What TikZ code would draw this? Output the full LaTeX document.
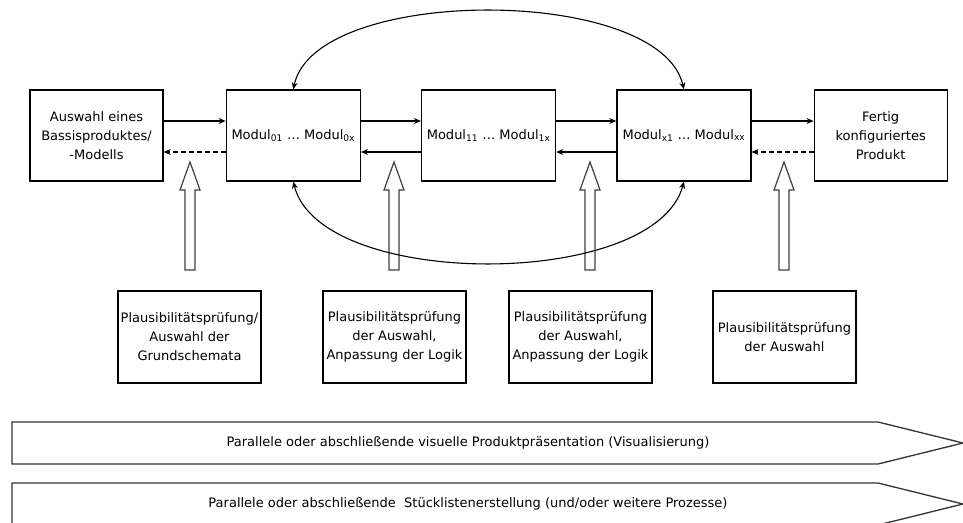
\documentclass[tikz,border=0pt]{standalone}
\usepackage{fontspec}
\setmainfont{DejaVu Sans}
\usetikzlibrary{arrows.meta,positioning}
\tikzset{
	box/.style={draw, line width=1.3pt, minimum width=134pt, minimum height=91pt, align=center, inner sep=1pt},
	checkbox/.style={draw, line width=1.3pt, minimum width=143pt, minimum height=92pt, align=center, inner sep=1pt},
	link/.style={line width=1.1pt, -{Stealth[length=7pt,width=6pt]}},
	backlink/.style={link, dash pattern=on 5pt off 3pt},
	loop/.style={line width=1.1pt, {Stealth[length=7pt,width=6pt]}-{Stealth[length=7pt,width=6pt]}},
	hollow/.style={line width=1.2pt, draw=black!75, fill=white},
	band/.style={line width=1.3pt, draw=black!80, fill=white}
}
\newcommand{\txt}{\fontsize{13}{19}\selectfont}
\begin{document}
\begin{tikzpicture}[x=1pt, y=-1pt, font=\txt]
	\useasboundingbox (0,0) rectangle (963,522);
	\node[box, minimum width=133pt] (basis) at (96.5,135.5) {Auswahl eines\\Bassisproduktes/\\-Modells};
	\node[box, right=62pt of basis] (mod0) {Modul\textsubscript{01} \dots\ Modul\textsubscript{0x}};
	\node[box, right=60pt of mod0] (mod1) {Modul\textsubscript{11} \dots\ Modul\textsubscript{1x}};
	\node[box, right=60pt of mod1] (mod2) {Modul\textsubscript{x1} \dots\ Modul\textsubscript{xx}};
	\node[box, minimum width=133pt, right=62pt of mod2] (fertig) {Fertig\\konfiguriertes\\Produkt};
	\draw[link] ([yshift=14.5pt]basis.east) -- ([yshift=14.5pt]mod0.west);
	\draw[link] ([yshift=14.5pt]mod0.east) -- ([yshift=14.5pt]mod1.west);
	\draw[link] ([yshift=14.5pt]mod1.east) -- ([yshift=14.5pt]mod2.west);
	\draw[link] ([yshift=14.5pt]mod2.east) -- ([yshift=14.5pt]fertig.west);
	\draw[backlink] ([yshift=-16.5pt]mod0.west) -- ([yshift=-16.5pt]basis.east);
	\draw[link] ([yshift=-16.5pt]mod1.west) -- ([yshift=-16.5pt]mod0.east);
	\draw[link] ([yshift=-16.5pt]mod2.west) -- ([yshift=-16.5pt]mod1.east);
	\draw[backlink] ([yshift=-16.5pt]fertig.west) -- ([yshift=-16.5pt]mod2.east);
	\foreach \x in {190,394,590,784}
		\draw[hollow] (\x-5,270) -- (\x-5,190) -- (\x-10,190) -- (\x,162) -- (\x+10,190) -- (\x+5,190) -- (\x+5,270) -- cycle;
	\draw[loop] (mod0.north) .. controls (315,-15) and (660,-15) .. (mod2.north);
	\draw[loop] (mod0.south) .. controls (320,290) and (655,290) .. (mod2.south);
	\node[checkbox] (pruef0) at (189.5,337) {Plausibilitätsprüfung/\\Auswahl der\\Grundschemata};
	\node[checkbox] (pruef1) at (394.5,337) {Plausibilitätsprüfung\\der Auswahl,\\Anpassung der Logik};
	\node[checkbox] (pruef2) at (580.5,337) {Plausibilitätsprüfung\\der Auswahl,\\Anpassung der Logik};
	\node[checkbox] (pruef3) at (784.5,337) {Plausibilitätsprüfung\\der Auswahl};
	\draw[band] (12,422) -- (878,422) -- (963,443) -- (878,464) -- (12,464) -- cycle;
	\draw[band] (12,483) -- (878,483) -- (963,504) -- (878,525) -- (12,525) -- cycle;
	\node (visual) at (468,443) {Parallele oder abschließende visuelle Produktpräsentation (Visualisierung)};
	\node (liste) at (468,504) {Parallele oder abschließende\ \ Stücklistenerstellung (und/oder weitere Prozesse)};
\end{tikzpicture}
\end{document}
